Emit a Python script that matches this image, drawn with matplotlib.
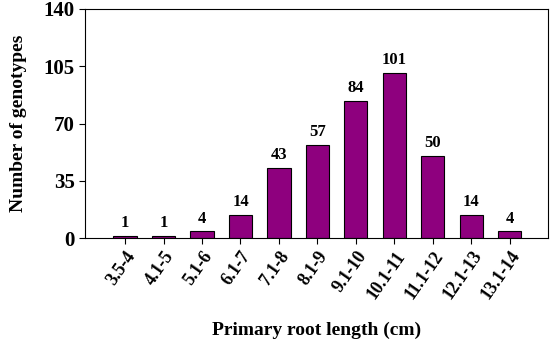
import matplotlib.pyplot as plt

plt.rcParams['font.family'] = ['Liberation Serif', 'DejaVu Serif']

ranges = ['3.5-4', '4.1-5', '5.1-6', '6.1-7', '7.1-8', '8.1-9', '9.1-10',
          '10.1-11', '11.1-12', '12.1-13', '13.1-14']
counts = [1, 1, 4, 14, 43, 57, 84, 101, 50, 14, 4]

fig = plt.figure(figsize=(5.5, 3.44), dpi=100)
ax = fig.add_axes([85 / 550, 1 - 238 / 344, 463 / 550, 229 / 344])

pos = list(range(len(ranges)))
bars = ax.bar(pos, counts, width=0.6, color='#8e007e', edgecolor='black', linewidth=0.8)

# value labels above bars
for rect, v in zip(bars, counts):
    ax.text(rect.get_x() + rect.get_width() / 2, v + 3, str(v),
            ha='center', va='bottom', fontsize=12, fontweight='bold')

ax.set_xlim(-1.04, 10.99)
ax.set_ylim(0, 140)
ax.set_yticks([0, 35, 70, 105, 140])
ax.set_xticks(pos)
ax.set_xticklabels(ranges, rotation=55, ha='right', rotation_mode='anchor')
ax.tick_params(axis='both', direction='out', length=4, width=0.8)
ax.tick_params(axis='x', labelsize=13, pad=3)
ax.tick_params(axis='y', labelsize=15)
for lab in ax.get_xticklabels() + ax.get_yticklabels():
    lab.set_fontweight('bold')

ax.set_ylabel('Number of genotypes', fontsize=14, fontweight='bold', labelpad=12)
ax.set_xlabel('Primary root length (cm)', fontsize=14, fontweight='bold', labelpad=14)

for s in ax.spines.values():
    s.set_linewidth(0.8)

fig.savefig('out.png', dpi=100)
